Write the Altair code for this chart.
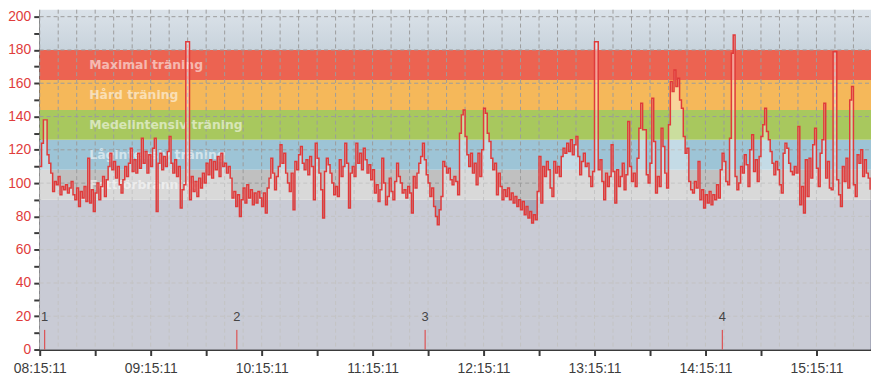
import altair as alt
import pandas as pd

# heart-rate samples, one per minute from 08:15:11
hr = [
    110,124,138,138,117,112,106,95,101,99,
    104,93,98,96,99,94,97,101,93,90,
    97,86,95,91,98,89,115,88,96,83,
    94,100,90,98,104,92,102,110,118,108,
    113,103,110,99,94,102,110,104,112,121,
    107,114,106,118,109,127,112,119,106,117,
    110,121,127,83,112,118,108,116,110,119,
    128,112,106,114,104,110,
    85,96,99,185,185,90,104,95,101,92,
    103,97,106,100,112,105,114,103,113,108,
    116,104,118,110,112,106,110,103,91,95,
    86,93,80,90,97,88,99,91,96,87,
    94,88,95,91,86,94,82,97,103,115,
    106,96,104,110,123,112,118,106,100,95,
    106,84,113,108,117,122,112,108,114,105,
    116,110,90,124,115,
    106,96,79,107,115,111,106,100,93,98,
    92,114,104,110,124,112,85,106,110,104,
    124,112,118,108,121,114,106,111,102,108,
    94,99,89,96,115,100,87,92,103,95,
    90,101,112,104,100,94,96,91,98,94,
    82,104,97,106,112,116,124,114,105,100,
    92,97,86,80,75,84,92,113,110,106,
    109,102,99,104,101,
    93,130,141,144,128,117,110,118,106,112,
    99,118,104,120,145,142,130,125,115,108,
    112,93,106,98,90,96,92,97,90,94,
    88,92,86,90,84,89,81,86,79,83,
    76,81,78,95,116,88,110,104,113,108,
    97,92,113,106,110,104,116,121,118,124,
    119,126,117,123,128,116,105,113,118,110,
    112,104,98,107,185,
    185,108,114,101,90,106,98,104,123,107,
    88,108,98,104,112,96,105,137,110,101,
    106,98,115,133,148,132,132,105,100,112,
    151,125,94,104,98,133,122,106,97,135,
    161,155,168,158,163,150,145,128,118,121,
    101,96,94,101,97,113,90,96,85,93,
    88,95,87,93,90,99,91,108,118,113,
    101,99,127,178,189,
    104,96,100,110,106,117,111,98,120,129,
    107,114,101,116,128,135,145,131,126,119,
    112,105,113,108,99,94,118,124,121,112,
    107,105,110,106,134,87,98,82,114,92,
    115,103,123,133,109,98,118,126,148,103,
    113,97,96,179,179,102,93,86,110,101,
    115,97,150,158,99,92,117,112,120,104,
    114,106,103,96,
]
minutes = list(range(len(hr)))

hour_labels = ["08:15:11", "09:15:11", "10:15:11", "11:15:11",
               "12:15:11", "13:15:11", "14:15:11", "15:15:11"]

band_lo = [0, 90, 108, 126, 144, 162]
band_hi = [90, 108, 126, 144, 162, 180]
band_colors = ["#a5a8b9", "#c0c0c0", "#9dc4d6", "#a8c85e", "#f5b85a", "#ec6351"]
band_labels = ["", "Fettförbränning", "Lågintensiv träning",
               "Medelintensiv träning", "Hård träning", "Maximal träning"]

top_lo = [180]
top_hi = [204.2]

marker_minutes = [2.7, 106.6, 208.4, 369.1]
marker_labels = ["1", "2", "3", "4"]

grid_minutes = list(range(0, 450, 10))
grid_values = list(range(20, 201, 20))

W, H = 839, 343
xs = alt.Scale(domain=[0, 449.5], nice=False, zero=False)
ys = alt.Scale(domain=[0, 204.2], nice=False)

label_expr = ("datum.value % 60 === 0 ? " + str(hour_labels) + "[datum.value / 60] : ''")

xaxis = alt.Axis(values=list(range(0, 450, 30)), labelExpr=label_expr, grid=False, title=None,
                 tickSize=6, tickWidth=2, tickColor="#3a3a3a",
                 domainColor="#3a3a3a", domainWidth=2,
                 labelColor="#3c3c3c", labelFont="Liberation Sans", labelFontSize=14,
                 labelPadding=6, labelOverlap=False, labelFlush=False, labelBound=False)
yaxis = alt.Axis(values=list(range(0, 201, 10)), title=None,
                 labelExpr="datum.value % 20 === 0 ? datum.label : ''", grid=False,
                 tickSize=6, tickWidth=2, tickColor="#3a3a3a",
                 domainColor="#3a3a3a", domainWidth=2,
                 labelColor="#e03c3c", labelFont="Liberation Sans", labelFontSize=14,
                 labelPadding=3, labelOverlap=False, labelFlush=False)


def X(f):
    return alt.X(f, scale=xs, axis=xaxis, title=None)


def Y(f):
    return alt.Y(f, scale=ys, axis=yaxis, title=None)


series = pd.DataFrame({"m": minutes, "hr": hr})
bands = pd.DataFrame({"lo": band_lo, "hi": band_hi, "color": band_colors, "label": band_labels})
top = pd.DataFrame({"lo": top_lo, "hi": top_hi})
markers = pd.DataFrame({"m": marker_minutes, "label": marker_labels})
vgrid = pd.DataFrame({"m": grid_minutes})
hgrid = pd.DataFrame({"v": grid_values})

top_layer = alt.Chart(top).mark_rect(
    fill=alt.Gradient(gradient="linear",
                      stops=[alt.GradientStop(color="#dbe2e9", offset=0),
                             alt.GradientStop(color="#c8d3dc", offset=1)],
                      x1=0, x2=0, y1=0, y2=1)
).encode(y=Y("lo:Q"), y2="hi:Q", x=alt.value(0), x2=alt.value(W))

band_layer = alt.Chart(bands).mark_rect().encode(
    y=Y("lo:Q"), y2="hi:Q", x=alt.value(0), x2=alt.value(W),
    color=alt.Color("color:N", scale=None))

vgrid_layer = alt.Chart(vgrid).mark_rule(color="#9c9c9c", strokeDash=[4, 3], strokeWidth=1).encode(
    x=X("m:Q"), y=alt.value(0), y2=alt.value(H))

hgrid_layer = alt.Chart(hgrid).mark_rule(color="#9c9c9c", strokeDash=[4, 3], strokeWidth=1).encode(
    y=Y("v:Q"), x=alt.value(0), x2=alt.value(W))

label_layer = alt.Chart(bands).transform_calculate(
    mid="(datum.lo + datum.hi) / 2"
).mark_text(align="left", baseline="middle", font="DejaVu Sans", fontWeight="bold",
            fontSize=12.5, color="white", opacity=0.55).encode(
    x=alt.value(50), y=Y("mid:Q"), text="label:N")

area_layer = alt.Chart(series).mark_area(color="white", opacity=0.4, interpolate="step-after").encode(
    x=X("m:Q"), y=Y("hr:Q"))

line_layer = alt.Chart(series).mark_line(color="#e03a3a", strokeWidth=1.5, interpolate="step-after").encode(
    x=X("m:Q"), y=Y("hr:Q"))

marker_rules = alt.Chart(markers).transform_calculate(y0="0", y1="11.8").mark_rule(
    color="#e03a3a", strokeWidth=1).encode(x=X("m:Q"), y=Y("y0:Q"), y2="y1:Q")

marker_text = alt.Chart(markers).transform_calculate(ty="19.5").mark_text(
    font="Liberation Sans", fontSize=13, color="#444444", align="center", baseline="middle").encode(
    x=X("m:Q"), y=Y("ty:Q"), text="label:N")

chart = alt.layer(
    top_layer, band_layer, vgrid_layer, hgrid_layer, label_layer,
    area_layer, line_layer, marker_rules, marker_text
).properties(
    width=W, height=H,
    autosize=alt.AutoSizeParams(type="none"),
    padding={"left": 32, "top": 0, "right": 0, "bottom": 26},
    background="white",
).configure_view(strokeWidth=0)

chart.save("out.html", embed_options={"renderer": "svg", "actions": False})
